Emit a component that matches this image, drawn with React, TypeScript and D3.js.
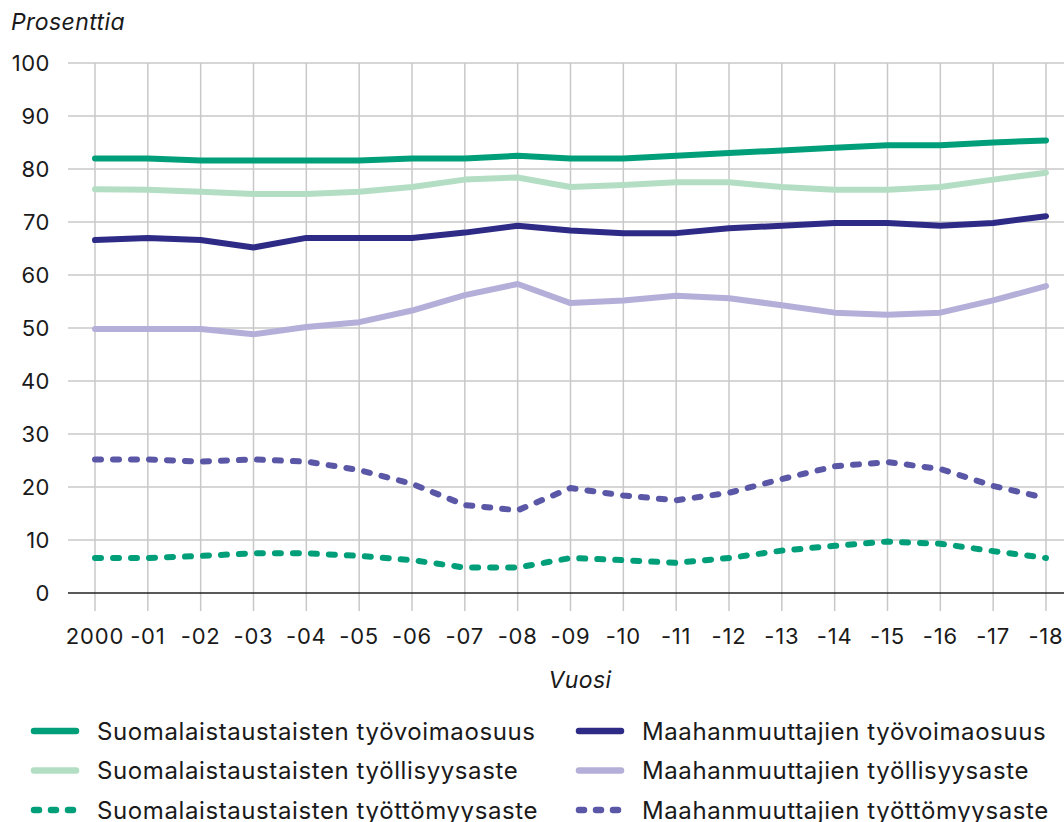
import React from "react";
import * as d3 from "d3";

const years = [2000, 2001, 2002, 2003, 2004, 2005, 2006, 2007, 2008, 2009, 2010, 2011, 2012, 2013, 2014, 2015, 2016, 2017, 2018];
const yearLabels = ["2000", "-01", "-02", "-03", "-04", "-05", "-06", "-07", "-08", "-09", "-10", "-11", "-12", "-13", "-14", "-15", "-16", "-17", "-18"];
const yTicks = [0, 10, 20, 30, 40, 50, 60, 70, 80, 90, 100];

const finLabour = [82, 82, 81.6, 81.6, 81.6, 81.6, 82, 82, 82.5, 82, 82, 82.5, 83, 83.5, 84, 84.5, 84.5, 85, 85.4];
const finEmploy = [76.2, 76.1, 75.7, 75.3, 75.3, 75.7, 76.6, 78, 78.4, 76.6, 77, 77.5, 77.5, 76.6, 76.1, 76.1, 76.6, 78, 79.3];
const finUnemp = [6.6, 6.6, 7.0, 7.5, 7.5, 7.0, 6.2, 4.8, 4.8, 6.6, 6.2, 5.7, 6.6, 8.0, 8.9, 9.7, 9.3, 7.9, 6.6];
const immLabour = [66.6, 67, 66.6, 65.2, 67, 67, 67, 68, 69.3, 68.4, 67.9, 67.9, 68.8, 69.3, 69.8, 69.8, 69.3, 69.8, 71.1];
const immEmploy = [49.8, 49.8, 49.8, 48.8, 50.2, 51.1, 53.3, 56.2, 58.3, 54.7, 55.2, 56.1, 55.6, 54.3, 52.9, 52.5, 52.9, 55.2, 57.9];
const immUnemp = [25.2, 25.2, 24.8, 25.2, 24.8, 23.2, 20.6, 16.6, 15.6, 19.8, 18.4, 17.5, 18.9, 21.5, 23.9, 24.7, 23.4, 20.2, 17.9];

const seriesNames = [
  "Suomalaistaustaisten työvoimaosuus",
  "Suomalaistaustaisten työllisyysaste",
  "Suomalaistaustaisten työttömyysaste",
  "Maahanmuuttajien työvoimaosuus",
  "Maahanmuuttajien työllisyysaste",
  "Maahanmuuttajien työttömyysaste",
];

const series = [
  { name: seriesNames[0], values: finLabour, color: "#009f79", dashed: false },
  { name: seriesNames[1], values: finEmploy, color: "#b4dec4", dashed: false },
  { name: seriesNames[2], values: finUnemp, color: "#009f79", dashed: true },
  { name: seriesNames[3], values: immLabour, color: "#2d2b86", dashed: false },
  { name: seriesNames[4], values: immEmploy, color: "#b4afd9", dashed: false },
  { name: seriesNames[5], values: immUnemp, color: "#5b57a7", dashed: true },
];

const FONT = "Inter, 'Noto Sans', sans-serif";
const TXT = "#1a1a1a";

export default function App() {
  const width = 1064;
  const height = 822;
  const x = d3.scaleLinear().domain([2000, 2018]).range([95, 1046]);
  const y = d3.scaleLinear().domain([0, 100]).range([593, 63]);
  const line = d3
    .line<number>()
    .x((_, i) => x(years[i]))
    .y((d) => y(d));

  const drawOrder = [1, 0, 4, 3, 2, 5];

  return (
    <svg
      width={width}
      height={height}
      style={{ position: "absolute", left: 0, top: 0, display: "block" }}
      fontFamily={FONT}
    >
      <rect x={0} y={0} width={width} height={height} fill="#fff" />
      <text x={11} y={30} fontSize={23} fontStyle="italic" fill={TXT} letterSpacing={0.4}>
        Prosenttia
      </text>
      {yTicks.map((t) => (
        <g key={t}>
          {t !== 0 && (
            <line x1={68} x2={width} y1={y(t)} y2={y(t)} stroke="#c8c8c8" strokeWidth={1.5} />
          )}
          <text x={50} y={y(t)} dy="0.36em" textAnchor="end" fontSize={22} fill={TXT} letterSpacing={0.5}>
            {t}
          </text>
        </g>
      ))}
      {years.map((yr, i) => (
        <g key={yr}>
          <line x1={x(yr)} x2={x(yr)} y1={y(100)} y2={611} stroke="#c8c8c8" strokeWidth={1.5} />
          <text x={x(yr)} y={644} textAnchor="middle" fontSize={22} fill={TXT} letterSpacing={0.8}>
            {yearLabels[i]}
          </text>
        </g>
      ))}
      <line x1={68} x2={width} y1={y(0)} y2={y(0)} stroke="#222" strokeWidth={1.5} />
      <text x={580} y={688} textAnchor="middle" fontSize={23} fontStyle="italic" fill={TXT} letterSpacing={0.4}>
        Vuosi
      </text>
      {drawOrder.map((k) => {
        const s = series[k];
        return (
          <path
            key={s.name}
            d={line(s.values) || ""}
            fill="none"
            stroke={s.color}
            strokeWidth={6}
            strokeLinecap="round"
            strokeLinejoin="round"
            strokeDasharray={s.dashed ? "6 12" : undefined}
          />
        );
      })}
      {series.map((s, i) => {
        const col = i < 3 ? 0 : 1;
        const row = i % 3;
        const lx = col === 0 ? 34 : 579;
        const ly = 731 + row * 39.5;
        return (
          <g key={s.name}>
            <line
              x1={lx}
              x2={lx + 42}
              y1={ly}
              y2={ly}
              stroke={s.color}
              strokeWidth={6.5}
              strokeLinecap="round"
              strokeDasharray={s.dashed ? "5 12" : undefined}
            />
            <text x={col === 0 ? 97 : 642} y={ly} dy="0.36em" fontSize={24} fill={TXT} letterSpacing={0.6}>
              {s.name}
            </text>
          </g>
        );
      })}
    </svg>
  );
}
